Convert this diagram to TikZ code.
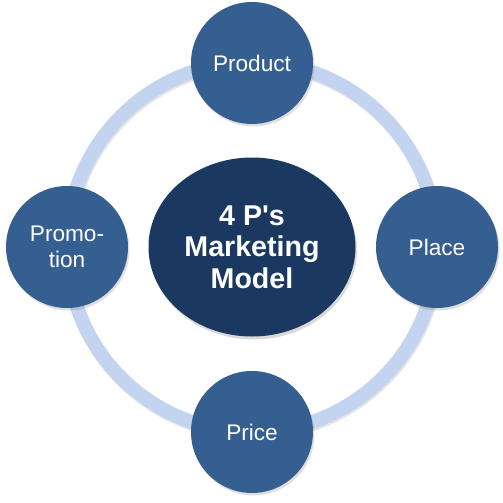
\documentclass[tikz,border=0pt]{standalone}
\usepackage{fontspec}
\setmainfont{Liberation Sans}
\newfontfamily\hubfont{Liberation Sans}[Ligatures=TeXOff]
\usetikzlibrary{shapes.geometric,shadows}
\definecolor{pblue}{HTML}{365F91}
\definecolor{dblue}{HTML}{1B3960}
\definecolor{ringblue}{HTML}{C3D4F1}
\tikzset{
  pnode/.style={circle, fill=pblue, minimum size=122pt, inner sep=0pt, text=white,
    align=center, font=\fontsize{22.6}{25.5}\selectfont,
    drop shadow={opacity=0.25, shadow xshift=1.5pt, shadow yshift=-2.5pt}},
  hub/.style={ellipse, fill=dblue, minimum width=207pt, minimum height=179pt, inner sep=0pt,
    text=white, align=center, font=\hubfont\fontsize{28.6}{31.5}\selectfont\bfseries,
    drop shadow={opacity=0.3, shadow xshift=1.5pt, shadow yshift=-3pt}},
  ring/.style={line width=14pt, draw=ringblue}
}
\begin{document}
\begin{tikzpicture}[x=1pt,y=-1pt]
\useasboundingbox (0,0) rectangle (503,503);
\coordinate (c) at (252,247);
\draw[line width=14pt, draw=black!10] ([xshift=1pt,yshift=-2pt]c) circle (185pt);
\draw[ring] (c) circle (185pt);
\node[hub] (hub) at (c) {4 P's\\Marketing\\Model};
\node[pnode] (product) at (252,63) {Product};
\node[pnode] (place) at (437,247) {Place};
\node[pnode] (price) at (252,432) {Price};
\node[pnode] (promotion) at (67,247) {Promo-\\tion};
\end{tikzpicture}
\end{document}
